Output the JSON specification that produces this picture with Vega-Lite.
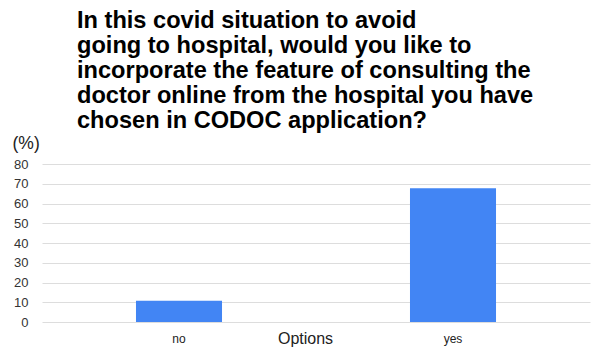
{
  "$schema": "https://vega.github.io/schema/vega-lite/v6.json",
  "width": 548,
  "height": 158,
  "autosize": {"type": "none"},
  "padding": {"left": 42, "top": 164, "right": 1, "bottom": 27},
  "background": "white",
  "view": {"stroke": null},
  "title": {
    "text": [
      "In this covid situation to avoid",
      "going to hospital, would you like to",
      "incorporate the feature of consulting the",
      "doctor online from the hospital you have",
      "chosen in CODOC application?"
    ],
    "anchor": "start",
    "frame": "group",
    "dx": 35,
    "font": "Liberation Sans",
    "fontSize": 23.6,
    "fontWeight": "bold",
    "color": "#000000",
    "lineHeight": 25.2,
    "offset": 1
  },
  "data": {
    "values": [
      {"option": "no", "pct": 10.7},
      {"option": "yes", "pct": 67.7}
    ]
  },
  "mark": {"type": "bar", "color": "#4285F4"},
  "encoding": {
    "x": {
      "field": "option",
      "type": "nominal",
      "scale": {"paddingInner": 0.686, "paddingOuter": 0.343},
      "axis": {
        "title": "Options",
        "labelAngle": 0,
        "domain": false,
        "ticks": false,
        "labelPadding": 11,
        "labelFont": "Liberation Sans",
        "labelFontSize": 12,
        "labelColor": "#222222",
        "titleFont": "Liberation Sans",
        "titleFontSize": 16,
        "titleFontWeight": "normal",
        "titleColor": "#222222",
        "titleX": 263,
        "titleY": 21,
        "titleBaseline": "alphabetic",
        "titleAlign": "center"
      }
    },
    "y": {
      "field": "pct",
      "type": "quantitative",
      "scale": {"domain": [0, 80]},
      "axis": {
        "values": [0, 10, 20, 30, 40, 50, 60, 70, 80],
        "title": "(%)",
        "titleAngle": 0,
        "titleAlign": "left",
        "titleBaseline": "middle",
        "titleX": -30,
        "titleY": -21,
        "titleFont": "Liberation Sans",
        "titleFontSize": 17.5,
        "titleFontWeight": "normal",
        "titleColor": "#222222",
        "domain": false,
        "ticks": false,
        "labelPadding": 14,
        "labelFont": "Liberation Sans",
        "labelFontSize": 13,
        "labelColor": "#333333",
        "gridColor": "#dddddd",
        "gridWidth": 1.2
      }
    }
  }
}
